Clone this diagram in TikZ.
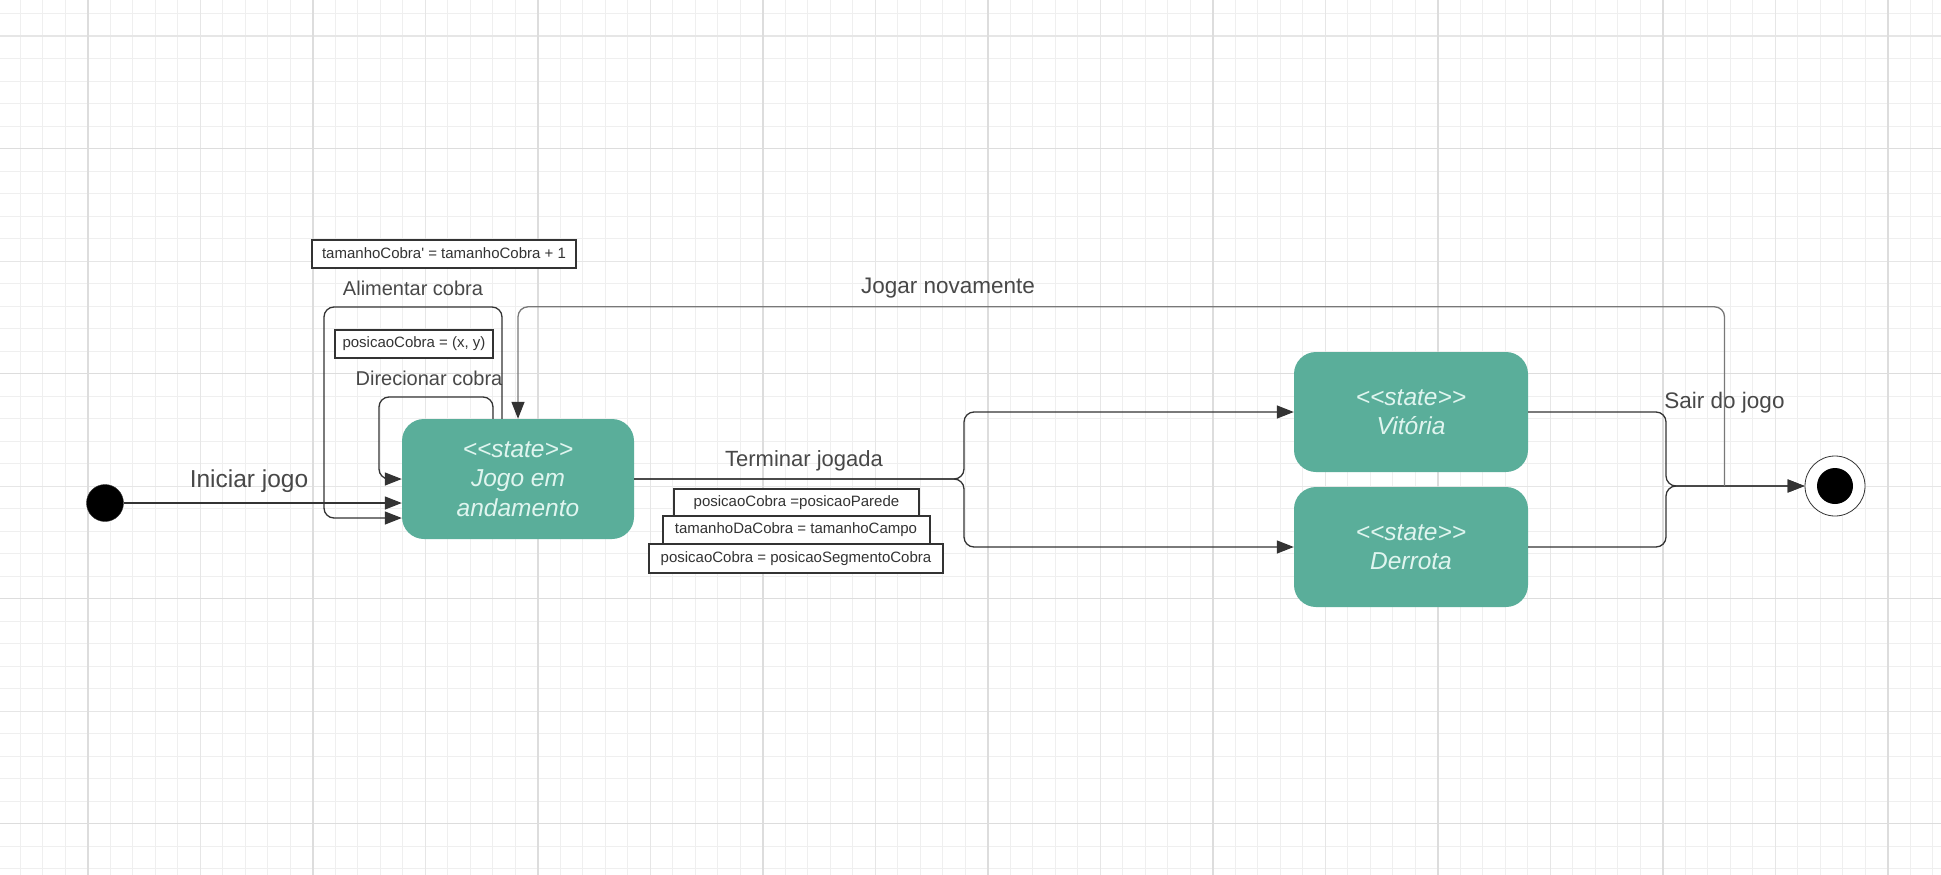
\documentclass[tikz,border=0pt]{standalone}
\usepackage{fontspec}
\newfontfamily\diafont{Liberation Sans}
\usetikzlibrary{arrows.meta}

\definecolor{statefill}{RGB}{90,174,154}
\definecolor{statetext}{RGB}{224,245,239}
\definecolor{lbltext}{RGB}{72,72,72}
\definecolor{linegray}{RGB}{51,51,51}
\definecolor{backline}{RGB}{120,120,120}
\definecolor{gridminor}{RGB}{239,239,239}
\definecolor{gridmid}{RGB}{230,230,230}
\definecolor{gridmajor}{RGB}{221,221,221}

\tikzset{
  stbox/.style={fill=statefill, text=statetext, rounded corners=22pt,
    minimum width=232pt, minimum height=120pt, inner sep=0pt, align=center,
    font=\diafont\fontsize{24.5}{29.5}\selectfont\itshape},
  guard/.style={draw=linegray, line width=2pt, fill=white, text=linegray,
    inner sep=0pt, minimum height=28pt,
    font=\diafont\fontsize{15}{18}\selectfont},
  lbl/.style={text=lbltext, anchor=base, inner sep=0pt},
  arr/.style={draw=linegray, line width=1.3pt, rounded corners=10pt,
    -{Triangle[length=17pt,width=13pt,color=linegray]}},
}

\begin{document}
\begin{tikzpicture}[x=1pt,y=-1pt,font=\diafont]
\useasboundingbox (0,0) rectangle (1941,875);
\fill[white] (0,0) rectangle (1941,875);

\foreach \x in {20.25,42.75,...,1941} \draw[gridminor,line width=1pt] (\x,0) -- (\x,875);
\foreach \y in {13.6,36.1,...,875} \draw[gridminor,line width=1pt] (0,\y) -- (1941,\y);
\foreach \x in {87.75,200.25,...,1941} \draw[gridmid,line width=1.2pt] (\x,0) -- (\x,875);
\foreach \y in {36.1,148.6,...,875} \draw[gridmid,line width=1.2pt] (0,\y) -- (1941,\y);
\foreach \x in {87.75,312.75,...,1941} \draw[gridmajor,line width=1.5pt] (\x,0) -- (\x,875);
\foreach \y in {148.6,373.6,...,875} \draw[gridmajor,line width=1.5pt] (0,\y) -- (1941,\y);

\node[circle, fill=black, draw=linegray, minimum size=37pt, inner sep=0pt] (ini) at (105,503) {};
\node[stbox] (jogo) at (518,479) {<<state>>\\Jogo em\\andamento};
\node[stbox, minimum width=234pt] (vitoria) at (1411,412) {<<state>>\\Vitória};
\node[stbox, minimum width=234pt] (derrota) at (1411,547) {<<state>>\\Derrota};
\node[circle, fill=white, draw=linegray, line width=0.8pt, minimum size=60pt, inner sep=0pt] (fim) at (1835,486) {};
\node[circle, fill=black, minimum size=36pt, inner sep=0pt] (fimin) at (fim) {};

\node[guard, minimum width=264pt] (g1) at (444,253.5) {tamanhoCobra' = tamanhoCobra + 1};
\node[guard, minimum width=158pt] (g2) at (414,343.5) {posicaoCobra = (x, y)};
\node[guard, minimum width=245pt, minimum height=27pt] (g3) at (796.5,502.5) {posicaoCobra =posicaoParede};
\node[guard, minimum width=267pt] (g4) at (796,530) {tamanhoDaCobra = tamanhoCampo};
\node[guard, minimum width=294pt, minimum height=29pt] (g5) at (796,558.5) {posicaoCobra = posicaoSegmentoCobra};

\node[lbl, font=\diafont\fontsize{24.5}{29}\selectfont] (liniciar) at (249,487) {Iniciar jogo};
\node[lbl, font=\diafont\fontsize{20}{24}\selectfont] (lalimentar) at (413,295) {Alimentar cobra};
\node[lbl, font=\diafont\fontsize{20}{24}\selectfont] (ldirecionar) at (429,385) {Direcionar cobra};
\node[lbl, font=\diafont\fontsize{22.5}{27}\selectfont] (ljogar) at (948,293) {Jogar novamente};
\node[lbl, font=\diafont\fontsize{22}{26}\selectfont] (lterminar) at (804,466) {Terminar jogada};
\node[lbl, font=\diafont\fontsize{22.5}{27}\selectfont] (lsair) at (1724.5,408) {Sair do jogo};

\coordinate (split) at (964,479);
\coordinate (junta) at (1666,486);
\coordinate (sair) at (1724.5,486);

\draw[arr] (ini.east) -- (ini.east -| jogo.west);
\draw[arr] ([xshift=-25pt]jogo.north) |- (379,397) |- (jogo.west);
\draw[arr] ([xshift=-16pt]jogo.north) |- (324,307) |- ([yshift=-39pt]jogo.west);
\draw[arr] (jogo.east) -- (split) |- (vitoria.west);
\draw[arr] (jogo.east) -- (split) |- (derrota.west);
\draw[arr] (vitoria.east) -| (junta) -- (fim.west);
\draw[arr] (derrota.east) -| (junta) -- (fim.west);
\draw[arr, draw=backline] (sair) |- ([yshift=112pt]jogo.north) -- (jogo.north);
\end{tikzpicture}
\end{document}
